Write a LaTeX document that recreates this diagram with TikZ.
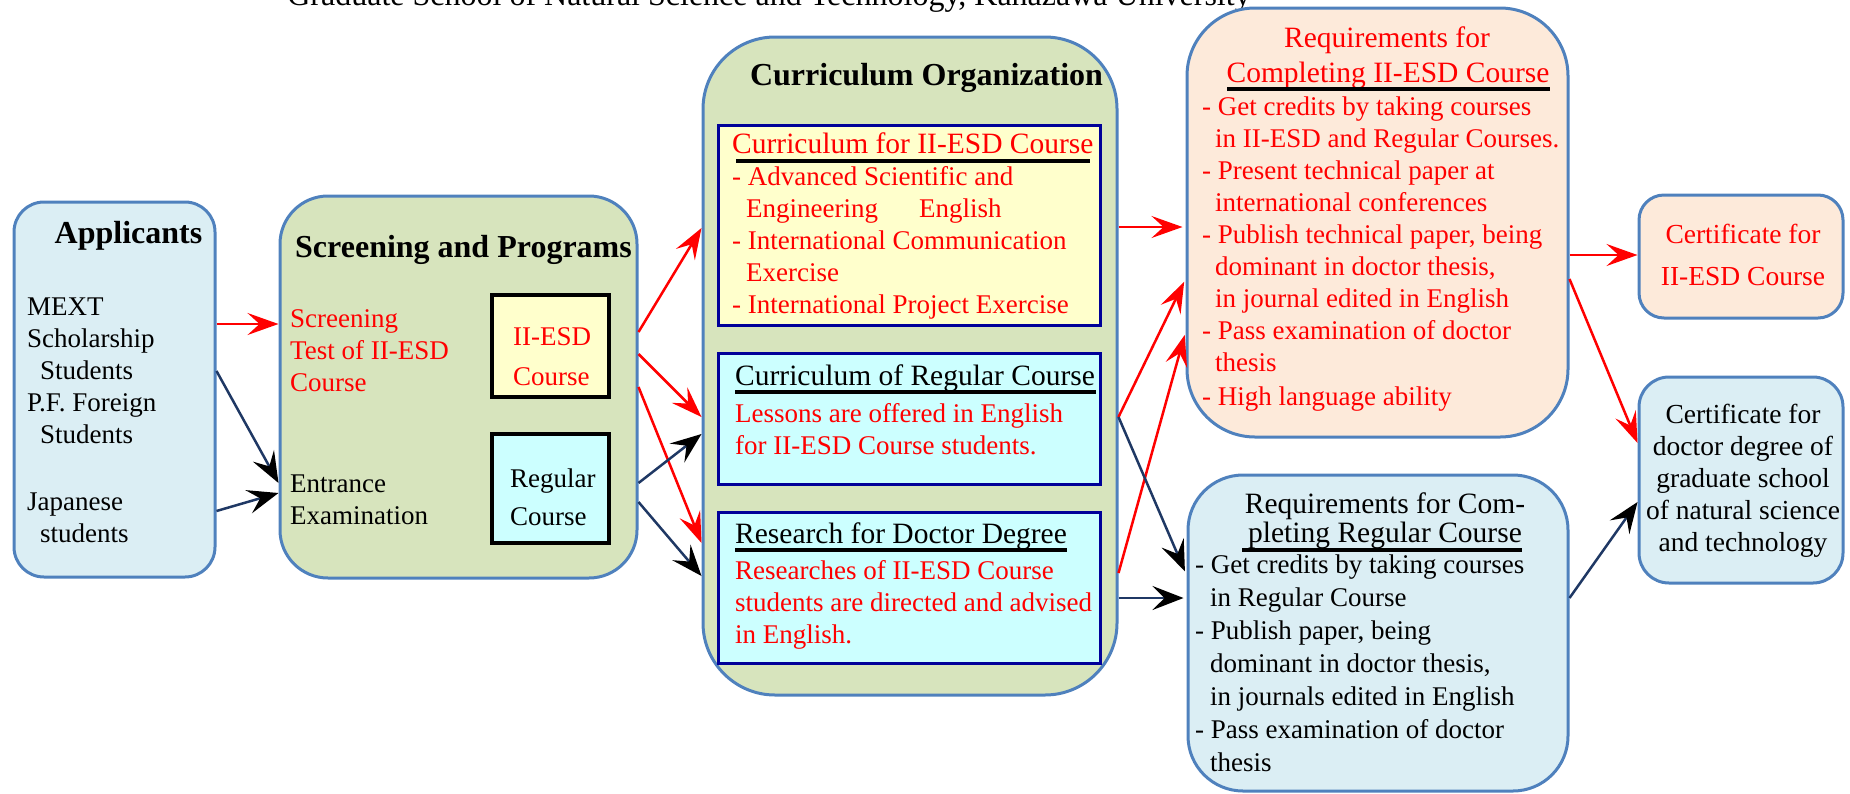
\documentclass[tikz,border=0pt]{standalone}
\usepackage{fontspec}
\setmainfont{Liberation Serif}
\usetikzlibrary{arrows.meta}
\definecolor{bordblue}{HTML}{4F81BD}
\definecolor{lblue}{HTML}{DBEEF4}
\definecolor{olive}{HTML}{D7E4BD}
\definecolor{peach}{HTML}{FDEADA}
\definecolor{lyellow}{HTML}{FFFFCC}
\definecolor{lcyan}{HTML}{CCFFFF}
\definecolor{innernavy}{HTML}{000099}
\definecolor{arrnavy}{HTML}{1F3864}
\definecolor{pured}{HTML}{FF0000}
\begin{document}
\begin{tikzpicture}[x=1pt,y=-1pt,
  bigbox/.style={draw=bordblue, line width=3pt, inner sep=0pt},
  innerbox/.style={draw=innernavy, line width=3pt, inner sep=0pt, minimum width=382pt},
  scrbox/.style={draw=black, line width=3.5pt, inner sep=0pt, minimum width=117pt},
  hd/.style={anchor=base, inner sep=0pt, font=\bfseries\fontsize{32}{38}\selectfont},
  sub/.style={anchor=base west, inner sep=0pt, font=\fontsize{29.5}{35}\selectfont},
  subc/.style={anchor=base, inner sep=0pt, font=\fontsize{29.5}{35}\selectfont},
  lines/.style={anchor=north west, inner sep=0pt, align=left, font=\fontsize{27}{32}\selectfont},
  clines/.style={anchor=north, inner sep=0pt, align=center, font=\fontsize{27.5}{32}\selectfont},
  uline/.style={line width=3.5pt, black},
  redarr/.style={draw=pured, line width=2.5pt, -{Stealth[length=31pt,width=22pt,inset=12pt]}},
  navarr/.style={draw=arrnavy, line width=2.5pt, -{Stealth[length=31pt,width=24pt,inset=12pt,color=black]}}
]
\useasboundingbox (0,0) rectangle (1850,793);

% title (partly cut, as in the reference)
\node[anchor=base, inner sep=0pt, font=\fontsize{32}{38}\selectfont] (title) at (769,5)
  {Graduate School of Natural Science and Technology, Kanazawa University};

% ---------- boxes ----------
\node[bigbox, fill=lblue, minimum width=201pt, minimum height=375pt, rounded corners=30pt] (app) at (114.5,389.5) {};
\node[bigbox, fill=olive, minimum width=357pt, minimum height=382pt, rounded corners=48pt] (scr) at (458.5,387) {};
\node[bigbox, fill=olive, minimum width=414pt, minimum height=658pt, rounded corners=72pt] (co) at (910,366) {};
\node[bigbox, fill=peach, minimum width=381pt, minimum height=429pt, rounded corners=68pt] (rqII) at (1377.5,222.5) {};
\node[bigbox, fill=lblue, minimum width=380pt, minimum height=316pt, rounded corners=55pt] (rqReg) at (1378,633) {};
\node[bigbox, fill=peach, minimum width=204pt, minimum height=123pt, rounded corners=25pt] (ctII) at (1741,256.5) {};
\node[bigbox, fill=lblue, minimum width=204pt, minimum height=206pt, rounded corners=30pt] (ctDoc) at (1741,480) {};

\node[scrbox, fill=lyellow, minimum height=102pt] (sII) at (550.5,346) {};
\node[scrbox, fill=lcyan, minimum height=109pt] (sReg) at (550.5,488.5) {};

\node[innerbox, fill=lyellow, minimum height=200pt] (cII) at (909,225) {};
\node[innerbox, fill=lcyan, minimum height=131pt] (cReg) at (909,418.5) {};
\node[innerbox, fill=lcyan, minimum height=151pt] (cRes) at (909,587.5) {};

% ---------- Applicants ----------
\node[hd] (appT) at (128.5,243) {Applicants};
\node[lines] (appL) at (27,292.6) {\strut MEXT\\ Scholarship\\ \hspace*{13pt}Students\\ P.F. Foreign\\ \hspace*{13pt}Students\\[35pt] Japanese\\ \hspace*{13pt}students};

% ---------- Screening ----------
\node[hd] (scrT) at (463.5,257) {Screening and Programs};
\node[lines, text=pured] (scrL1) at (290,304.6) {\strut Screening\\ Test of II-ESD\\ Course};
\node[lines] (scrL2) at (290,469.6) {\strut Entrance\\ Examination};
\node[lines, text=pured] (sIIt) at (513,322.6) {\strut II-ESD\\[8pt] Course};
\node[lines] (sRegt) at (510,464.6) {\strut Regular\\[6pt] Course};

% ---------- Curriculum ----------
\node[hd] (coT) at (926.5,85) {Curriculum Organization};
\node[sub, text=pured] (cIIT) at (732,153) {Curriculum for II-ESD Course};
\draw[uline] (736,161) -- (1090,161);
\node[lines, text=pured] (cIIL) at (732,162.6) {\strut - Advanced Scientific and\\ \hspace*{14pt}Engineering\hspace{41pt}English\\ - International Communication\\ \hspace*{14pt}Exercise\\ - International Project Exercise};

\node[sub] (cRegT) at (735,385) {Curriculum of Regular Course};
\draw[uline] (735,392) -- (1096,392);
\node[lines, text=pured] (cRegL) at (735,399.6) {\strut Lessons are offered in English\\ for II-ESD Course students.};

\node[sub] (cResT) at (735,543) {Research for Doctor Degree};
\draw[uline] (735,550) -- (1067,550);
\node[lines, text=pured] (cResL) at (735,556.6) {\strut Researches of II-ESD Course\\ students are directed and advised\\ in English.};

% ---------- Requirements II-ESD ----------
\node[subc, text=pured] (rqIIT1) at (1387,47) {Requirements for};
\node[subc, text=pured] (rqIIT2) at (1388,82) {Completing II-ESD Course};
\draw[uline] (1227,89) -- (1550,89);
\node[lines, text=pured] (rqIIL) at (1202,92.6) {\strut - Get credits by taking courses\\ \hspace*{13pt}in II-ESD and Regular Courses.\\ - Present technical paper at\\ \hspace*{13pt}international conferences\\ - Publish technical paper, being\\ \hspace*{13pt}dominant in doctor thesis,\\ \hspace*{13pt}in journal edited in English\\ - Pass examination of doctor\\ \hspace*{13pt}thesis\\[2pt] - High language ability};

% ---------- Requirements Regular ----------
\node[subc] (rqRegT1) at (1385,513) {Requirements for Com-};
\node[subc] (rqRegT2) at (1385,542) {pleting Regular Course};
\draw[uline] (1242,550) -- (1522,550);
\node[lines, font=\fontsize{27}{33}\selectfont] (rqRegL) at (1195,549.9) {\strut - Get credits by taking courses\\ \hspace*{15pt}in Regular Course\\ - Publish paper, being\\ \hspace*{15pt}dominant in doctor thesis,\\ \hspace*{15pt}in journals edited in English\\ - Pass examination of doctor\\ \hspace*{15pt}thesis};

% ---------- Certificates ----------
\node[clines, text=pured] (ctIIL) at (1743,220.6) {\strut Certificate for\\[10pt] II-ESD Course};
\node[clines] (ctDocL) at (1743,400.6) {\strut Certificate for\\ doctor degree of\\ graduate school\\ of natural science\\ and technology};

% ---------- connectors ----------
\draw[redarr] ([yshift=65.5pt]app.east) -- ([yshift=63pt]scr.west);
\draw[navarr] ([yshift=18.5pt]app.east) -- ([yshift=-96pt]scr.west);
\draw[navarr] ([yshift=-121.5pt]app.east) -- ([yshift=-106pt]scr.west);

\draw[redarr] ([yshift=55pt]scr.east) -- ([yshift=138pt]co.west);
\draw[redarr] ([yshift=33pt]scr.east) -- ([yshift=-51pt]co.west);
\draw[redarr] ([yshift=0pt]scr.east) -- ([yshift=-177pt]co.west);
\draw[navarr] ([yshift=-96pt]scr.east) -- ([yshift=-68pt]co.west);
\draw[navarr] ([yshift=-115pt]scr.east) -- ([yshift=-210pt]co.west);

\draw[redarr, shorten >=3pt] ([yshift=139pt]co.east) -- ([yshift=-4.5pt]rqII.west);
\draw[redarr, shorten >=3pt] ([yshift=-51pt]co.east) -- ([yshift=-56.5pt]rqII.west);
\draw[redarr, shorten >=3pt] ([yshift=-207pt]co.east) -- ([yshift=-109.5pt]rqII.west);
\draw[navarr, shorten >=4pt] ([yshift=-51pt]co.east) -- ([yshift=58pt]rqReg.west);
\draw[navarr, shorten >=3pt] ([yshift=-232pt]co.east) -- ([yshift=35pt]rqReg.west);

\draw[redarr] ([yshift=-32.5pt]rqII.east) -- ([yshift=1.5pt]ctII.west);
\draw[redarr] ([yshift=-56.5pt]rqII.east) -- ([yshift=37pt]ctDoc.west);
\draw[navarr] ([yshift=35pt]rqReg.east) -- ([yshift=-22pt]ctDoc.west);
\end{tikzpicture}
\end{document}
